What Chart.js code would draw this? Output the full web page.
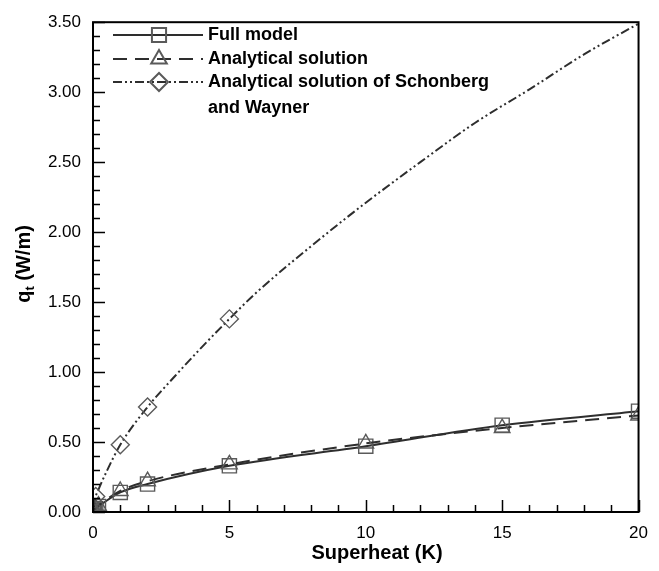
<!DOCTYPE html>
<html>
<head>
<meta charset="utf-8">
<script src="https://cdn.jsdelivr.net/npm/chart.js@4.4.0/dist/chart.umd.min.js"></script>
<style>
  html, body { margin: 0; padding: 0; background: #fff; }
  #wrap { width: 659px; height: 571px; }
</style>
</head>
<body>
<div id="wrap"><canvas id="qtChart"></canvas></div>
<script>
// values
const superheat = [0, 0.02, 0.05, 0.1, 0.2, 1, 2, 5, 10, 15, 20];
const fullModel = [0, 0.01, 0.015, 0.025, 0.04, 0.14, 0.20, 0.33, 0.47, 0.62, 0.72];
const analytical = [0, 0.01, 0.015, 0.025, 0.045, 0.15, 0.22, 0.34, 0.49, 0.60, 0.69];

const swSuperheat = [0, 0.1, 0.2, 0.5, 1, 2, 3, 4, 5, 6, 8, 10, 12, 14, 16, 18, 20];
const schonbergWayner = [0, 0.11, 0.16, 0.29, 0.48, 0.75, 0.97, 1.18, 1.38, 1.57, 1.90, 2.21, 2.50, 2.78, 3.02, 3.27, 3.49];
const swMarked = [0, 0.1, 1, 2, 5];

const legendLabels = ['Full model', 'Analytical solution', 'Analytical solution of Schonberg', 'and Wayner'];

const LINE = '#2e2e2e';
const MARK = '#5a5a5a';
const FONT = '"Liberation Sans", Arial, Helvetica, sans-serif';

function toPoints(xs, ys) {
    return xs.map((v, i) => ({ x: v, y: ys[i] }));
}

// inward ticks, frame, axis titles and legend
const decorations = {
    id: 'decorations',
    afterDraw(chart) {
        const { ctx, chartArea: a, scales } = chart;
        const x = scales.x, y = scales.y;
        ctx.save();
        ctx.strokeStyle = '#000';
        ctx.lineWidth = 1.5;
        ctx.beginPath();
        for (let v = 0; v <= 20; v++) {
            const px = Math.round(x.getPixelForValue(v)) + 0.5;
            const len = v % 5 === 0 ? 12 : 7;
            ctx.moveTo(px, a.bottom);
            ctx.lineTo(px, a.bottom - len);
        }
        for (let i = 0; i <= 35; i++) {
            const py = Math.round(y.getPixelForValue(i / 10)) + 0.5;
            const len = i % 5 === 0 ? 12 : 7;
            ctx.moveTo(a.left, py);
            ctx.lineTo(a.left + len, py);
        }
        ctx.stroke();

        ctx.lineWidth = 2;
        ctx.strokeRect(a.left, a.top, a.right - a.left, a.bottom - a.top);

        // axis titles
        ctx.fillStyle = '#000';
        ctx.font = 'bold 20px ' + FONT;
        ctx.textAlign = 'center';
        ctx.textBaseline = 'middle';
        ctx.fillText('Superheat (K)', 377, 553);

        ctx.save();
        ctx.translate(24, 264);
        ctx.rotate(-Math.PI / 2);
        ctx.textAlign = 'left';
        ctx.textBaseline = 'middle';
        ctx.font = 'bold 20px ' + FONT;
        const wq = ctx.measureText('q').width;
        ctx.font = 'bold 13px ' + FONT;
        const wt = ctx.measureText('t').width;
        ctx.font = 'bold 20px ' + FONT;
        const wr = ctx.measureText(' (W/m)').width;
        let sx = -(wq + wt + wr) / 2;
        ctx.fillText('q', sx, 0);
        ctx.font = 'bold 13px ' + FONT;
        ctx.fillText('t', sx + wq, 6);
        ctx.font = 'bold 20px ' + FONT;
        ctx.fillText(' (W/m)', sx + wq + wt, 0);
        ctx.restore();

        // legend
        const rows = [
            { y: 35, dash: [], style: 'rect', r: 10 },
            { y: 59, dash: [14, 8], style: 'triangle', r: 9 },
            { y: 82, dash: [9, 3, 2, 3, 2, 3], style: 'rectRot', r: 9 }
        ];
        rows.forEach((row, i) => {
            ctx.strokeStyle = LINE;
            ctx.lineWidth = 2;
            ctx.setLineDash(row.dash);
            ctx.beginPath();
            ctx.moveTo(113, row.y);
            ctx.lineTo(203, row.y);
            ctx.stroke();
            ctx.setLineDash([]);
            ctx.strokeStyle = MARK;
            ctx.fillStyle = 'rgba(0,0,0,0)';
            Chart.helpers.drawPoint(ctx, { pointStyle: row.style, radius: row.r, rotation: 0, borderWidth: 1.4 }, 159, row.y);
            ctx.fillStyle = '#000';
            ctx.font = 'bold 18px ' + FONT;
            ctx.textAlign = 'left';
            ctx.textBaseline = 'middle';
            ctx.fillText(legendLabels[i], 208, row.y);
        });
        ctx.fillText(legendLabels[3], 208, 108);
        ctx.restore();
    }
};

const ctx = document.getElementById('qtChart').getContext('2d');
const qtChart = new Chart(ctx, {
    type: 'line',
    data: {
        datasets: [
            {
                label: 'Analytical solution of Schonberg and Wayner',
                data: toPoints(swSuperheat, schonbergWayner),
                borderColor: LINE,
                borderWidth: 2,
                borderDash: [9, 3, 2, 3, 2, 3],
                cubicInterpolationMode: 'monotone',
                pointStyle: 'rectRot',
                pointRadius: swSuperheat.map(v => swMarked.includes(v) ? 9 : 0),
                pointBorderColor: MARK,
                pointBackgroundColor: 'rgba(0,0,0,0)',
                pointBorderWidth: 1.4
            },
            {
                label: 'Analytical solution',
                data: toPoints(superheat, analytical),
                borderColor: LINE,
                borderWidth: 2,
                borderDash: [14, 8],
                cubicInterpolationMode: 'monotone',
                pointStyle: 'triangle',
                pointRadius: 9,
                pointBorderColor: MARK,
                pointBackgroundColor: 'rgba(0,0,0,0)',
                pointBorderWidth: 1.4
            },
            {
                label: 'Full model',
                data: toPoints(superheat, fullModel),
                borderColor: LINE,
                borderWidth: 2,
                cubicInterpolationMode: 'monotone',
                pointStyle: 'rect',
                pointRadius: 10,
                pointBorderColor: MARK,
                pointBackgroundColor: 'rgba(0,0,0,0)',
                pointBorderWidth: 1.4
            }
        ]
    },
    options: {
        responsive: true,
        maintainAspectRatio: false,
        animation: false,
        layout: { padding: { left: 30, right: 19, top: 15, bottom: 14 } },
        plugins: {
            legend: { display: false },
            tooltip: { enabled: false }
        },
        scales: {
            x: {
                type: 'linear',
                min: 0,
                max: 20,
                grid: { display: false, drawTicks: false },
                border: { display: false },
                ticks: {
                    stepSize: 5,
                    padding: 11,
                    color: '#000',
                    font: { family: FONT, size: 17 }
                },
                afterFit: (s) => { s.height = 45; }
            },
            y: {
                min: 0,
                max: 3.5,
                grid: { display: false, drawTicks: false },
                border: { display: false },
                ticks: {
                    stepSize: 0.5,
                    padding: 12,
                    color: '#000',
                    font: { family: FONT, size: 17 },
                    callback: (v) => v.toFixed(2)
                },
                afterFit: (s) => { s.width = 63; }
            }
        }
    },
    plugins: [decorations]
});
</script>
</body>
</html>
